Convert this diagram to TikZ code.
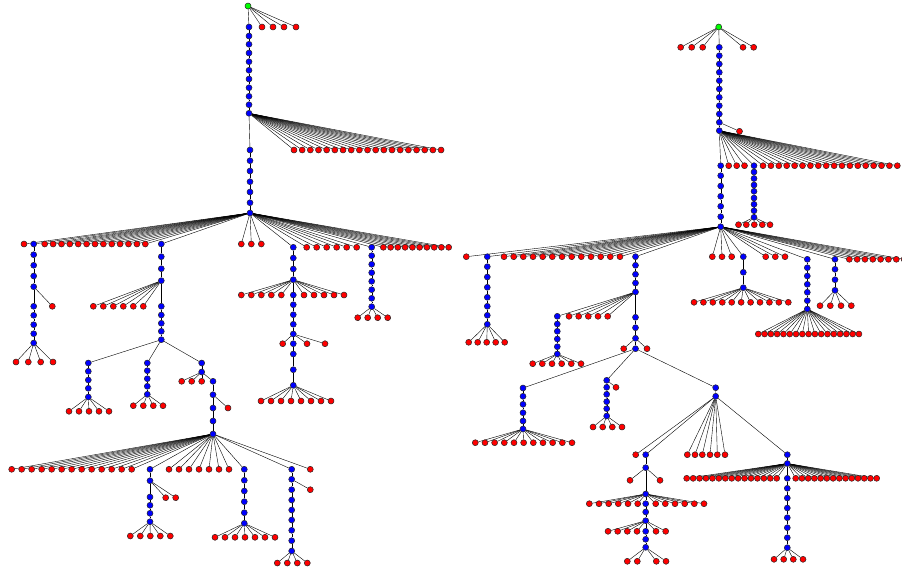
\documentclass[tikz,border=0pt]{standalone}
\usepackage{xcolor}
\usepackage{tikz}
\usetikzlibrary{backgrounds}

\begin{document}
\begin{tikzpicture}[x=1pt, y=-1pt, line width=0.95pt,
    bluedot/.style={draw=black!85, circle, fill=blue, inner sep=0pt, minimum size=6pt, line width=0.5pt},
    reddot/.style={bluedot, fill=red},
    greendot/.style={bluedot, fill=green}]
    \useasboundingbox (0,0) rectangle (902,571);

    % ===== Left tree =====
    % Root
    \node[greendot] (L) at (248,6) {};
    \foreach \x [count=\i] in {262,273,284,296}
        \node[reddot] (Lr\i) at (\x,27) {};

    % First trunk
    \foreach \y [count=\i] in {27,36,44.3,53,61.7,70.3,79,87.7,96.3,104.7,113.3}
        \node[bluedot] (a\i) at (249,\y) {};
    \foreach \i in {0,...,18}
        \node[reddot] (a11r\i) at (294+8.17*\i,150) {};

    % Second trunk down to the hub
    \foreach \y [count=\i] in {150,160.7,171,181.7,192,202.7,213}
        \node[bluedot] (b\i) at (250,\y) {};
    \foreach \x [count=\i] in {24,44.7,53.1,61.5,69.8,78.2,86.6,95,103.4,111.8,120.1,128.5,136.9,145.3,241.3,251.3,261.3}
        \node[reddot] (b7r\i) at (\x,244) {};
    \foreach \x [count=\i] in {306.7,316.7,326.7,336.7,346.7,356.7,383.3,390.6,397.8,405.1,412.4,419.6,426.9,434.2,441.4,448.7}
        \node[reddot] (b7s\i) at (\x,247.3) {};

    % Branch c
    \foreach \y [count=\i] in {244,254.7,265.3,276,286.7,306.3,315.3,324.7,333.7,343}
        \node[bluedot] (c\i) at (33.7,\y) {};
    \node[reddot] (c5r1) at (52.3,306.3) {};
    \foreach \x [count=\i] in {16,28.3,40.7,53}
        \node[reddot] (c10r\i) at (\x,362) {};

    % Branch d
    \foreach \y [count=\i] in {244,256.7,268.7,280.7,306.3,315,323.3,331.3,339.7}
        \node[bluedot] (d\i) at (161.3,\y) {};
    \foreach \x [count=\i] in {93.3,103.3,113.3,123.3,133.3,143.3}
        \node[reddot] (d4r\i) at (\x,306.3) {};

    % Branch g
    \foreach \y [count=\i] in {363,371.3,380,388.3,397}
        \node[bluedot] (g\i) at (88.3,\y) {};
    \foreach \x [count=\i] in {69,79,89,99,109}
        \node[reddot] (g5r\i) at (\x,411.3) {};

    % Branch h
    \foreach \y [count=\i] in {363,370.7,378.7,386.3,394.3}
        \node[bluedot] (h\i) at (147.3,\y) {};
    \foreach \x [count=\i] in {133.3,143.3,153.3,163}
        \node[reddot] (h5r\i) at (\x,405.7) {};

    % Branch k, down to the second hub
    \node[bluedot] (k1) at (201.7,363) {};
    \node[bluedot] (k2) at (201.7,372) {};
    \foreach \y [count=\i from 3] in {381.3,394.7,408,421,434}
        \node[bluedot] (k\i) at (213,\y) {};
    \foreach \x [count=\i] in {181.7,191.7,201.7}
        \node[reddot] (k2r\i) at (\x,381.3) {};
    \node[reddot] (k4r1) at (228,408) {};
    \foreach \x [count=\i] in {11.7,21.7,31.7,41.7,51.7,61.7,71.7,81.7,91.7,101.7,111.7,121.7,131.7,169,179,189,199,209,219,229,310.3}
        \node[reddot] (k7r\i) at (\x,469.3) {};

    % Branch m
    \foreach \y [count=\i] in {469.3,480.7,497,505.3,513.3,521.7}
        \node[bluedot] (m\i) at (150,\y) {};
    \foreach \x [count=\i] in {165.7,175.7}
        \node[reddot] (m2r\i) at (\x,497.7) {};
    \foreach \x [count=\i] in {130.3,140.3,150.3,160.3,170.3}
        \node[reddot] (m6r\i) at (\x,536) {};

    % Branch n
    \foreach \y [count=\i] in {469.3,480.3,491,501.7,512.7,523.3}
        \node[bluedot] (n\i) at (244.3,\y) {};
    \foreach \x [count=\i] in {215,225,235,245,255,265,275}
        \node[reddot] (n6r\i) at (\x,537.3) {};

    % Branch p
    \foreach \y [count=\i] in {469.3,479.3,489.7,500,510,520,530.3,540.7,551}
        \node[bluedot] (p\i) at (291.7,\y) {};
    \node[reddot] (p2r1) at (310.3,489.7) {};
    \foreach \x [count=\i] in {277.3,287.3,297.3,307.3}
        \node[reddot] (p9r\i) at (\x,563) {};

    % Branch e
    \foreach \y [count=\i] in {247.3,258,269,279.7,295,304.7,314.7,324.3,334,343.7,354,369.7,385.3}
        \node[bluedot] (e\i) at (293.3,\y) {};
    \foreach \x [count=\i] in {241.3,251.3,261.3,271.3,281.3,304,314,324,334,344}
        \node[reddot] (e4r\i) at (\x,295) {};
    \foreach \x [count=\i] in {282.7,307,325}
        \node[reddot] (e9r\i) at (\x,343.7) {};
    \foreach \x [count=\i] in {261,271,281,291,301,311,321,331}
        \node[reddot] (e13r\i) at (\x,401) {};

    % Branch f
    \foreach \y [count=\i] in {247.3,255.7,264.3,272.7,281.3,289.7,298.3,306.7}
        \node[bluedot] (f\i) at (371.7,\y) {};
    \foreach \x [count=\i] in {357.7,367.7,377.7,387.7}
        \node[reddot] (f8r\i) at (\x,317.7) {};

    % ===== Right tree =====
    % Root
    \node[greendot] (R) at (718.7,27) {};
    \foreach \x [count=\i] in {680.7,691.7,702.7,743,753.7}
        \node[reddot] (Rr\i) at (\x,47.3) {};

    % Trunk q
    \foreach \y [count=\i] in {47.3,55.7,64,72.3,80.7,89,97.3,105.7,114,122.3,130.7}
        \node[bluedot] (q\i) at (719.3,\y) {};
    \node[reddot] (q10r1) at (739.5,131.3) {};
    \foreach \x [count=\i] in {728.7,736.7,744.5}
        \node[reddot] (q11r\i) at (\x,165.7) {};
    \foreach \i in {0,...,17}
        \node[reddot] (q11s\i) at (763+7.9*\i,165.7) {};

    % Trunk r, down to the hub
    \foreach \y [count=\i] in {165.7,175.7,186,196.3,206.3,216.7,226.7}
        \node[bluedot] (r\i) at (720.7,\y) {};

    % Branch s
    \foreach \y [count=\i] in {165.7,172,178.5,185,191.3,198,204.3,210.7,217.3}
        \node[bluedot] (s\i) at (754,\y) {};
    \foreach \x [count=\i] in {738.5,746.3,754.3,762.3,770}
        \node[reddot] (s9r\i) at (\x,224.7) {};

    % Hub r7 leaves
    \foreach \x [count=\i] in {466.3,504,513.7,523.3,533,542.7,552.3,562,571.7,581.3,591,600.7,610.3,620,712.3,722,731.7,765.7,775.3,785}
        \node[reddot] (r7r\i) at (\x,256.7) {};
    \foreach \i in {0,...,7}
        \node[reddot] (r7s\i) at (849.3+7.83*\i,259.3) {};

    % Branch t
    \foreach \y [count=\i] in {256.7,266.7,277,287.3,297.3,306.3,315.3,324.3}
        \node[bluedot] (t\i) at (487.3,\y) {};
    \foreach \x [count=\i] in {468.7,477.7,486.7,495.7,504.7}
        \node[reddot] (t8r\i) at (\x,342.3) {};

    % Branch u
    \foreach \y [count=\i] in {256.7,265.3,274.3,283,292,317.3,327.7,338.3,348.7}
        \node[bluedot] (u\i) at (635.5,\y) {};
    \foreach \x [count=\i] in {569,578.7,588.3,598,607.7}
        \node[reddot] (u5r\i) at (\x,316.3) {};
    \foreach \x [count=\i] in {623.7,647}
        \node[reddot] (u8r\i) at (\x,348.7) {};

    % Branch ua
    \foreach \y [count=\i] in {316.3,324,331.3,339,346.7,354}
        \node[bluedot] (ua\i) at (557.3,\y) {};
    \foreach \x [count=\i] in {532.7,542.3,552,561.7,571.3,581}
        \node[reddot] (ua6r\i) at (\x,363.7) {};

    % Branch ub
    \foreach \y [count=\i] in {388,396.3,404.3,412.7,421,429}
        \node[bluedot] (ub\i) at (523,\y) {};
    \foreach \i in {0,...,10}
        \node[reddot] (ub6r\i) at (475.3+9.67*\i,442.7) {};

    % Branch uc
    \foreach \y [count=\i] in {380.3,387.3,394.3,401.7,408.7,416}
        \node[bluedot] (uc\i) at (606.7,\y) {};
    \node[reddot] (uc1r1) at (616,387.3) {};
    \foreach \x [count=\i] in {593,602.7,612.3,622}
        \node[reddot] (uc6r\i) at (\x,427) {};

    % Branch ud
    \node[bluedot] (ud1) at (715.7,387.7) {};
    \node[bluedot] (ud2) at (715.7,396.3) {};
    \foreach \x [count=\i] in {635.7,687.3,695,702.3,710,717.3,725}
        \node[reddot] (ud2r\i) at (\x,454.7) {};

    % Branch ue
    \foreach \y [count=\i] in {454.7,467.7,494,503.7,512,520.7,531.3,539.3,547.3}
        \node[bluedot] (ue\i) at (645.7,\y) {};
    \foreach \x [count=\i] in {630,660}
        \node[reddot] (ue2r\i) at (\x,480.3) {};
    \foreach \x [count=\i] in {589.3,599,608.7,618.3,628,637.7,655.7,665.3,675,684.7,694.3,704}
        \node[reddot] (ue3r\i) at (\x,503.7) {};
    \foreach \x [count=\i] in {608,617.7,627.3,637,656,665.7}
        \node[reddot] (ue6r\i) at (\x,531.3) {};
    \foreach \x [count=\i] in {627.3,637.3,656.3,666}
        \node[reddot] (ue9r\i) at (\x,561.3) {};

    % Branch uf
    \foreach \y [count=\i] in {454.7,463.5,478.3,488.3,498,508,517.7,527.7,537.7,547.7}
        \node[bluedot] (uf\i) at (787.3,\y) {};
    \foreach \i in {0,...,14}
        \node[reddot] (uf2r\i) at (686.7+6.43*\i,478.3) {};
    \foreach \i in {0,...,13}
        \node[reddot] (uf2s\i) at (795.7+6.23*\i,478.3) {};
    \foreach \x [count=\i] in {774,783.7,793.3,803}
        \node[reddot] (uf10r\i) at (\x,559.3) {};

    % Branch v
    \foreach \y [count=\i] in {256.7,272.3,287.7}
        \node[bluedot] (v\i) at (743.3,\y) {};
    \foreach \i in {0,...,10}
        \node[reddot] (v3r\i) at (694+9.43*\i,302.3) {};

    % Branch w
    \foreach \y [count=\i] in {259.3,267.7,276,284.3,292.3,300.7,309}
        \node[bluedot] (w\i) at (807.3,\y) {};
    \foreach \i in {0,...,16}
        \node[reddot] (w7r\i) at (758.3+6.29*\i,334) {};

    % Branch z
    \foreach \y [count=\i] in {259.3,269.3,279.7,290.3}
        \node[bluedot] (z\i) at (835,\y) {};
    \foreach \x [count=\i] in {820,830.3,841,851.3}
        \node[reddot] (z4r\i) at (\x,305.7) {};

    % ===== Edges, behind the dots =====
    \begin{scope}[on background layer]
        % Left tree
        \foreach \i in {1,...,4} \draw (L) -- (Lr\i);
        \draw (L) -- (a1);
        \foreach \i [remember=\i as \j (initially 1)] in {2,...,11} \draw (a\j) -- (a\i);
        \foreach \i in {0,...,18} \draw (a11) -- (a11r\i);
        \draw (a11) -- (b1);
        \foreach \i [remember=\i as \j (initially 1)] in {2,...,7} \draw (b\j) -- (b\i);
        \foreach \i in {1,...,17} \draw (b7) -- (b7r\i);
        \foreach \i in {1,...,16} \draw (b7) -- (b7s\i);
        \draw (b7) -- (c1);
        \foreach \i [remember=\i as \j (initially 1)] in {2,...,10} \draw (c\j) -- (c\i);
        \draw (c5) -- (c5r1);
        \foreach \i in {1,...,4} \draw (c10) -- (c10r\i);
        \draw (b7) -- (d1);
        \foreach \i [remember=\i as \j (initially 1)] in {2,...,9} \draw (d\j) -- (d\i);
        \foreach \i in {1,...,6} \draw (d4) -- (d4r\i);
        \draw (d9) -- (g1);
        \foreach \i [remember=\i as \j (initially 1)] in {2,...,5} \draw (g\j) -- (g\i);
        \foreach \i in {1,...,5} \draw (g5) -- (g5r\i);
        \draw (d9) -- (h1);
        \foreach \i [remember=\i as \j (initially 1)] in {2,...,5} \draw (h\j) -- (h\i);
        \foreach \i in {1,...,4} \draw (h5) -- (h5r\i);
        \draw (d9) -- (k1);
        \foreach \i [remember=\i as \j (initially 1)] in {2,...,7} \draw (k\j) -- (k\i);
        \foreach \i in {1,...,3} \draw (k2) -- (k2r\i);
        \draw (k4) -- (k4r1);
        \foreach \i in {1,...,21} \draw (k7) -- (k7r\i);
        \draw (k7) -- (m1);
        \foreach \i [remember=\i as \j (initially 1)] in {2,...,6} \draw (m\j) -- (m\i);
        \foreach \i in {1,2} \draw (m2) -- (m2r\i);
        \foreach \i in {1,...,5} \draw (m6) -- (m6r\i);
        \draw (k7) -- (n1);
        \foreach \i [remember=\i as \j (initially 1)] in {2,...,6} \draw (n\j) -- (n\i);
        \foreach \i in {1,...,7} \draw (n6) -- (n6r\i);
        \draw (k7) -- (p1);
        \foreach \i [remember=\i as \j (initially 1)] in {2,...,9} \draw (p\j) -- (p\i);
        \draw (p2) -- (p2r1);
        \foreach \i in {1,...,4} \draw (p9) -- (p9r\i);
        \draw (b7) -- (e1);
        \foreach \i [remember=\i as \j (initially 1)] in {2,...,13} \draw (e\j) -- (e\i);
        \foreach \i in {1,...,10} \draw (e4) -- (e4r\i);
        \foreach \i in {1,...,3} \draw (e9) -- (e9r\i);
        \foreach \i in {1,...,8} \draw (e13) -- (e13r\i);
        \draw (b7) -- (f1);
        \foreach \i [remember=\i as \j (initially 1)] in {2,...,8} \draw (f\j) -- (f\i);
        \foreach \i in {1,...,4} \draw (f8) -- (f8r\i);
        % Right tree
        \foreach \i in {1,...,5} \draw (R) -- (Rr\i);
        \draw (R) -- (q1);
        \foreach \i [remember=\i as \j (initially 1)] in {2,...,11} \draw (q\j) -- (q\i);
        \draw (q10) -- (q10r1);
        \foreach \i in {1,...,3} \draw (q11) -- (q11r\i);
        \foreach \i in {0,...,17} \draw (q11) -- (q11s\i);
        \draw (q11) -- (r1);
        \foreach \i [remember=\i as \j (initially 1)] in {2,...,7} \draw (r\j) -- (r\i);
        \draw (q11) -- (s1);
        \foreach \i [remember=\i as \j (initially 1)] in {2,...,9} \draw (s\j) -- (s\i);
        \foreach \i in {1,...,5} \draw (s9) -- (s9r\i);
        \foreach \i in {1,...,20} \draw (r7) -- (r7r\i);
        \foreach \i in {0,...,7} \draw (r7) -- (r7s\i);
        \draw (r7) -- (t1);
        \foreach \i [remember=\i as \j (initially 1)] in {2,...,8} \draw (t\j) -- (t\i);
        \foreach \i in {1,...,5} \draw (t8) -- (t8r\i);
        \draw (r7) -- (u1);
        \foreach \i [remember=\i as \j (initially 1)] in {2,...,9} \draw (u\j) -- (u\i);
        \foreach \i in {1,...,5} \draw (u5) -- (u5r\i);
        \foreach \i in {1,2} \draw (u8) -- (u8r\i);
        \draw (u5) -- (ua1);
        \foreach \i [remember=\i as \j (initially 1)] in {2,...,6} \draw (ua\j) -- (ua\i);
        \foreach \i in {1,...,6} \draw (ua6) -- (ua6r\i);
        \draw (u9) -- (ub1);
        \foreach \i [remember=\i as \j (initially 1)] in {2,...,6} \draw (ub\j) -- (ub\i);
        \foreach \i in {0,...,10} \draw (ub6) -- (ub6r\i);
        \draw (u9) -- (uc1);
        \foreach \i [remember=\i as \j (initially 1)] in {2,...,6} \draw (uc\j) -- (uc\i);
        \draw (uc1) -- (uc1r1);
        \foreach \i in {1,...,4} \draw (uc6) -- (uc6r\i);
        \draw (u9) -- (ud1) -- (ud2);
        \foreach \i in {1,...,7} \draw (ud2) -- (ud2r\i);
        \draw (ud2) -- (ue1);
        \foreach \i [remember=\i as \j (initially 1)] in {2,...,9} \draw (ue\j) -- (ue\i);
        \foreach \i in {1,2} \draw (ue2) -- (ue2r\i);
        \foreach \i in {1,...,12} \draw (ue3) -- (ue3r\i);
        \foreach \i in {1,...,6} \draw (ue6) -- (ue6r\i);
        \foreach \i in {1,...,4} \draw (ue9) -- (ue9r\i);
        \draw (ud2) -- (uf1);
        \foreach \i [remember=\i as \j (initially 1)] in {2,...,10} \draw (uf\j) -- (uf\i);
        \foreach \i in {0,...,14} \draw (uf2) -- (uf2r\i);
        \foreach \i in {0,...,13} \draw (uf2) -- (uf2s\i);
        \foreach \i in {1,...,4} \draw (uf10) -- (uf10r\i);
        \draw (r7) -- (v1);
        \foreach \i [remember=\i as \j (initially 1)] in {2,...,3} \draw (v\j) -- (v\i);
        \foreach \i in {0,...,10} \draw (v3) -- (v3r\i);
        \draw (r7) -- (w1);
        \foreach \i [remember=\i as \j (initially 1)] in {2,...,7} \draw (w\j) -- (w\i);
        \foreach \i in {0,...,16} \draw (w7) -- (w7r\i);
        \draw (r7) -- (z1);
        \foreach \i [remember=\i as \j (initially 1)] in {2,...,4} \draw (z\j) -- (z\i);
        \foreach \i in {1,...,4} \draw (z4) -- (z4r\i);
    \end{scope}
\end{tikzpicture}
\end{document}
